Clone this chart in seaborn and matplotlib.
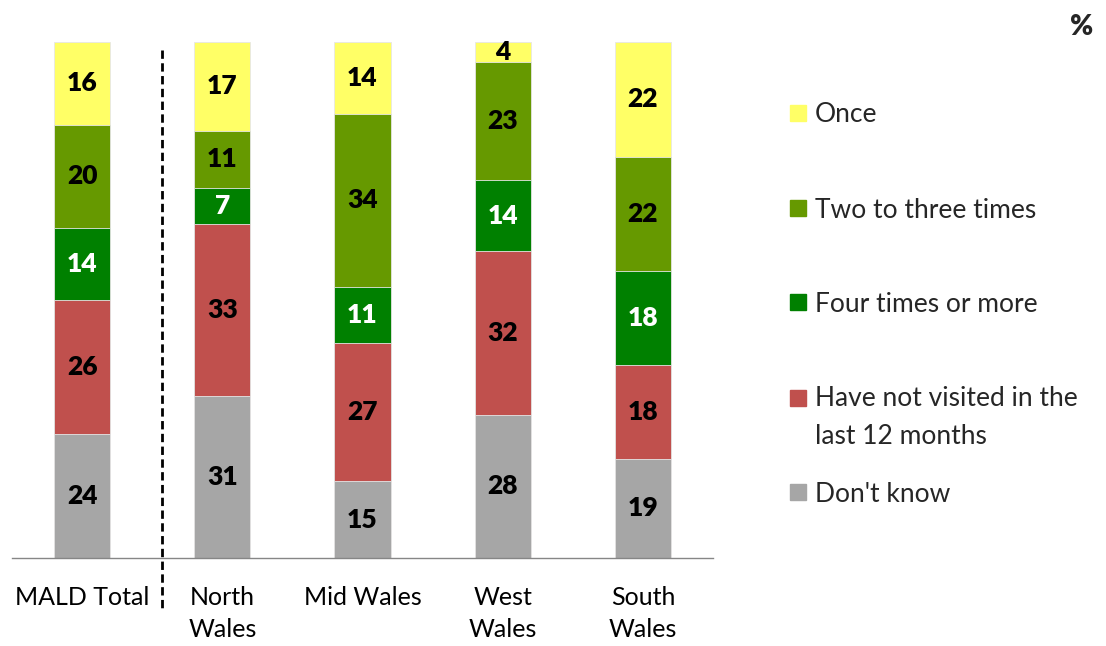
import numpy as np
import pandas as pd
import seaborn as sns
import matplotlib.pyplot as plt
from matplotlib.patches import Rectangle
from matplotlib.lines import Line2D

regions = ['MALD Total', 'North\nWales', 'Mid Wales', 'West\nWales', 'South\nWales']
series = ["Don't know", 'Have not visited in the\nlast 12 months', 'Four times or more',
          'Two to three times', 'Once']
dont_know = [24, 31, 15, 28, 19]
not_visited = [26, 33, 27, 32, 18]
four_plus = [14, 7, 11, 14, 18]
two_three = [20, 11, 34, 23, 22]
once = [16, 17, 14, 4, 22]
colors = ['#A6A6A6', '#C0504D', '#008000', '#669900', '#FFFF66']
label_colors = ['black', 'black', 'white', 'black', 'black']

sns.set_theme(style='white')
plt.rcParams['font.family'] = ['Lato', 'DejaVu Sans']

vals = np.array([dont_know, not_visited, four_plus, two_three, once], dtype=float)
shares = vals / vals.sum(axis=0) * 100   # 100% stacked, like the original
cum = shares.cumsum(axis=0)

fig = plt.figure(figsize=(11.06, 6.46), dpi=100)
ax = fig.add_axes([12 / 1106, 88 / 646, 701 / 1106, 516 / 646])

# draw tallest cumulative first so the lower segments sit on top
for i in range(len(series) - 1, -1, -1):
    df = pd.DataFrame({'region': regions, 'top': cum[i]})
    sns.barplot(data=df, x='region', y='top', order=regions, color=colors[i],
                saturation=1, width=0.4, edgecolor='#e6e6e6', linewidth=0.6, ax=ax)

for i in range(len(series)):
    for j in range(len(regions)):
        mid = cum[i, j] - shares[i, j] / 2
        ax.text(j, mid, f'{int(vals[i, j])}', ha='center', va='center',
                fontsize=19, fontweight='heavy', color=label_colors[i])

ax.set_xlim(-0.5, 4.5)
ax.set_ylim(0, 100)
ax.set_xlabel('')
ax.set_ylabel('')
ax.set_yticks([])
for s in ['top', 'right', 'left']:
    ax.spines[s].set_visible(False)
ax.spines['bottom'].set_color('#868686')
ax.spines['bottom'].set_linewidth(1)
ax.set_xticks(range(len(regions)))
ax.set_xticklabels(regions, fontsize=18, color='black', linespacing=1.5, va='top')
ax.set_xticks(np.arange(-0.5, 5, 1), minor=True)
ax.tick_params(axis='x', which='major', length=0, pad=20)
ax.tick_params(axis='x', which='minor', length=9, width=1, color='#868686', direction='out')

# dashed separator between total and regions
fig.add_artist(Line2D([162 / 1106, 162 / 1106], [1 - 50 / 646, 1 - 612 / 646],
                      color='black', lw=2, linestyle=(0, (3, 1.6))))

fig.text(1082 / 1106, 1 - 27 / 646, '%', ha='center', va='center',
         fontsize=20, fontweight='heavy')

# legend, laid out like the Excel one
leg_y = [113, 208, 302, 398, 492]
leg_order = [4, 3, 2, 1, 0]
for k, i in enumerate(leg_order):
    y = leg_y[k]
    fig.add_artist(Rectangle((790 / 1106, 1 - (y + 8) / 646), 16 / 1106, 16 / 646,
                             transform=fig.transFigure, color=colors[i]))
    n_lines = series[i].count('\n') + 1
    ty = y + 2 + (n_lines - 1) * 35 / 2
    fig.text(815 / 1106, 1 - ty / 646, series[i], ha='left', va='center',
             fontsize=19, linespacing=1.6)

fig.savefig('out.png', dpi=100)
